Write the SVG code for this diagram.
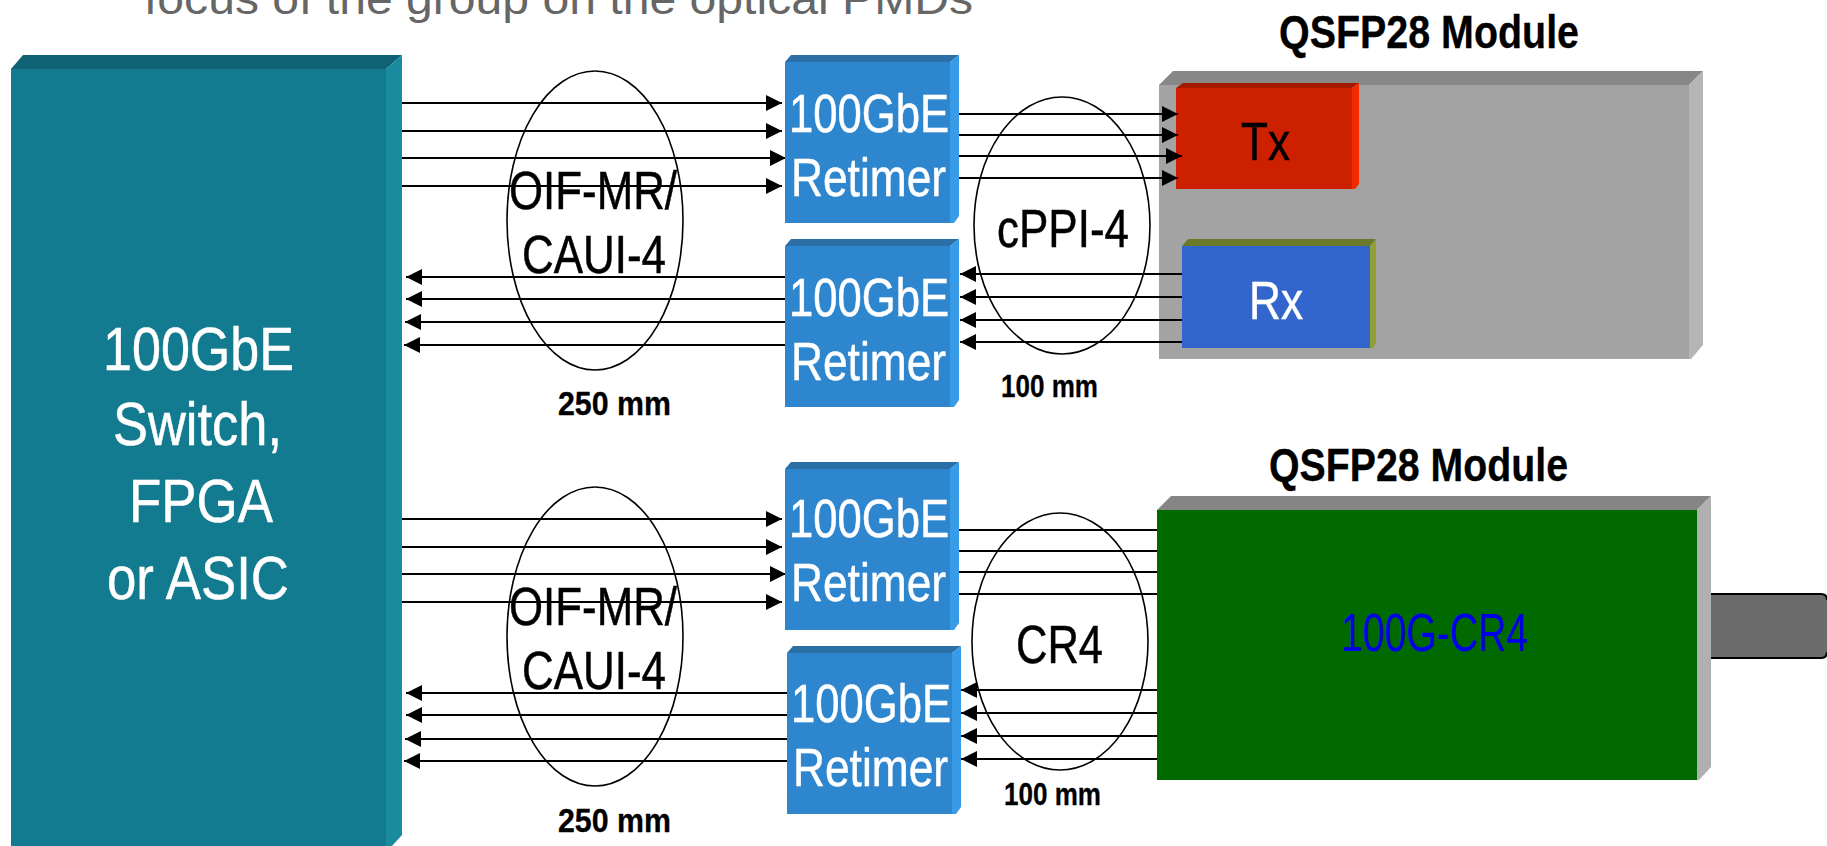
<svg xmlns="http://www.w3.org/2000/svg" width="1827" height="846" viewBox="0 0 1827 846">
<style>
text{font-family:"Liberation Sans",Arial,sans-serif;}
.w{fill:#fff;stroke:#fff;stroke-width:.5px}.k{fill:#000;stroke:#000;stroke-width:.5px}
.f53{font-size:54px}.f61{font-size:62px}
.b{font-weight:bold;fill:#000;stroke:#000;stroke-width:.3px}
.con line{stroke:#000;stroke-width:2.2}
.fw line{marker-end:url(#arr)}
.ell{fill:none;stroke:#000;stroke-width:1.6}
.rf{fill:#2e86cf}.rt{fill:#2a6fa6}.rs{fill:#389be8}
</style>
<defs>
<marker id="arr" markerUnits="userSpaceOnUse" markerWidth="16" markerHeight="16" refX="16" refY="8" orient="auto"><path d="M0 0L16 8L0 16Z" fill="#000"/></marker>
<g id="ret">
<path class="rf" d="M0 7H165V168H0Z"/>
<path class="rt" d="M0 7L6 0H174L165 7Z"/>
<path class="rs" d="M165 7L174 0V161L169 168H165Z"/>
</g>
</defs>
<rect width="1827" height="846" fill="#fff"/>
<text x="144" y="14" font-size="45" fill="#666" textLength="829" lengthAdjust="spacingAndGlyphs">focus of the group on the optical PMDs</text>

<g id="ellipses">
<ellipse class="ell" cx="595" cy="220.500" rx="88" ry="149.500"/>
<ellipse class="ell" cx="1062" cy="225.500" rx="88" ry="128.500"/>
<ellipse class="ell" cx="595" cy="636.500" rx="88" ry="149.500"/>
<ellipse class="ell" cx="1060" cy="641.500" rx="88" ry="128.500"/>
</g>

<g id="switch">
<path d="M11 69H386V846H11Z" fill="#137b8f"/>
<path d="M11 69L23 55H402L386 69Z" fill="#0f6273"/>
<path d="M386 69L402 55V835L392 846H386Z" fill="#1a8a9e"/>
<text class="w f61" x="103" y="370" textLength="191" lengthAdjust="spacingAndGlyphs">100GbE</text>
<text class="w f61" x="113" y="445" textLength="169" lengthAdjust="spacingAndGlyphs">Switch,</text>
<text class="w f61" x="129" y="522" textLength="144" lengthAdjust="spacingAndGlyphs">FPGA</text>
<text class="w f61" x="107" y="599" textLength="182" lengthAdjust="spacingAndGlyphs">or ASIC</text>
</g>

<g id="module-top">
<path d="M1159 85H1689V359H1159Z" fill="#a3a3a3"/>
<path d="M1159 85L1173 71H1703L1689 85Z" fill="#878787"/>
<path d="M1689 85L1703 71V345L1691 359H1689Z" fill="#b5b5b5"/>
</g>
<g id="tx">
<path d="M1176 88H1352V189H1176Z" fill="#cc2000"/>
<path d="M1176 88L1183 83H1359L1352 88Z" fill="#a31a00"/>
<path d="M1352 88L1359 83V184L1355 189H1352Z" fill="#f42a00"/>
<text class="k f53" x="1241" y="160" textLength="49" lengthAdjust="spacingAndGlyphs">Tx</text>
</g>
<g id="rx">
<path d="M1182 246H1370V348H1182Z" fill="#3366cc"/>
<path d="M1182 246L1188 239H1376L1370 246Z" fill="#6b7a2a"/>
<path d="M1370 246L1376 239V342L1373 348H1370Z" fill="#8fa033"/>
<text class="w f53" x="1249" y="319" textLength="54" lengthAdjust="spacingAndGlyphs">Rx</text>
</g>

<g id="cable">
<path d="M1711 594H1821Q1827 594 1827 600V652Q1827 658 1821 658H1711Z" fill="#6b6b6b"/>
<path d="M1711 594H1821Q1827 594 1827 600M1827 652Q1827 658 1821 658H1711" fill="none" stroke="#000" stroke-width="2"/>
</g>

<g id="connectors" class="con">
<g class="fw">
<line x1="402" y1="103" x2="782" y2="103"/>
<line x1="402" y1="131" x2="782" y2="131"/>
<line x1="402" y1="158" x2="786" y2="158"/>
<line x1="402" y1="186" x2="782" y2="186"/>
<line x1="785" y1="277" x2="406" y2="277"/>
<line x1="785" y1="299" x2="406" y2="299"/>
<line x1="785" y1="322" x2="405" y2="322"/>
<line x1="785" y1="345" x2="404" y2="345"/>
<line x1="959" y1="114" x2="1178" y2="114"/>
<line x1="959" y1="135" x2="1178" y2="135"/>
<line x1="959" y1="156" x2="1182" y2="156"/>
<line x1="959" y1="178" x2="1178" y2="178"/>
<line x1="1182" y1="274" x2="960" y2="274"/>
<line x1="1182" y1="297" x2="960" y2="297"/>
<line x1="1182" y1="320" x2="960" y2="320"/>
<line x1="1182" y1="342" x2="960" y2="342"/>
<line x1="402" y1="519" x2="782" y2="519"/>
<line x1="402" y1="547" x2="782" y2="547"/>
<line x1="402" y1="574" x2="786" y2="574"/>
<line x1="402" y1="602" x2="782" y2="602"/>
<line x1="787" y1="693" x2="406" y2="693"/>
<line x1="787" y1="715" x2="406" y2="715"/>
<line x1="787" y1="739" x2="405" y2="739"/>
<line x1="787" y1="761" x2="404" y2="761"/>
<line x1="1157" y1="690" x2="961" y2="690"/>
<line x1="1157" y1="713" x2="961" y2="713"/>
<line x1="1157" y1="736" x2="961" y2="736"/>
<line x1="1157" y1="759" x2="961" y2="759"/>
</g>
<line x1="959" y1="530" x2="1157" y2="530"/>
<line x1="959" y1="551" x2="1157" y2="551"/>
<line x1="959" y1="572" x2="1157" y2="572"/>
<line x1="959" y1="594" x2="1157" y2="594"/>
</g>

<g id="retimer-1"><use href="#ret" x="785" y="55"/>
<text class="w f53" x="789" y="132" textLength="160" lengthAdjust="spacingAndGlyphs">100GbE</text>
<text class="w f53" x="791" y="196" textLength="155" lengthAdjust="spacingAndGlyphs">Retimer</text></g>
<g id="retimer-2"><use href="#ret" x="785" y="239"/>
<text class="w f53" x="789" y="316" textLength="160" lengthAdjust="spacingAndGlyphs">100GbE</text>
<text class="w f53" x="791" y="380" textLength="155" lengthAdjust="spacingAndGlyphs">Retimer</text></g>
<g id="retimer-3"><use href="#ret" x="785" y="462"/>
<text class="w f53" x="789" y="537" textLength="160" lengthAdjust="spacingAndGlyphs">100GbE</text>
<text class="w f53" x="791" y="601" textLength="155" lengthAdjust="spacingAndGlyphs">Retimer</text></g>
<g id="retimer-4"><use href="#ret" x="787" y="646"/>
<text class="w f53" x="791" y="722" textLength="160" lengthAdjust="spacingAndGlyphs">100GbE</text>
<text class="w f53" x="793" y="786" textLength="155" lengthAdjust="spacingAndGlyphs">Retimer</text></g>

<g id="module-bottom">
<path d="M1157 510H1697V780H1157Z" fill="#006a00"/>
<path d="M1157 510L1171 496H1711L1697 510Z" fill="#858585"/>
<path d="M1697 510L1711 496V767L1699 780H1697Z" fill="#b0b0b0"/>
<text class="f53" fill="#0000e6" x="1341" y="651" textLength="187" lengthAdjust="spacingAndGlyphs">100G-CR4</text>
</g>

<g id="labels">
<text class="k f53" x="509" y="209" textLength="168" lengthAdjust="spacingAndGlyphs">OIF-MR/</text>
<text class="k f53" x="522" y="273" textLength="144" lengthAdjust="spacingAndGlyphs">CAUI-4</text>
<text class="b" font-size="33" x="558" y="415" textLength="113" lengthAdjust="spacingAndGlyphs">250 mm</text>
<text class="k f53" x="997" y="247" textLength="132" lengthAdjust="spacingAndGlyphs">cPPI-4</text>
<text class="b" font-size="31" x="1001" y="397" textLength="97" lengthAdjust="spacingAndGlyphs">100 mm</text>
<text class="b" font-size="46" x="1279" y="48" textLength="300" lengthAdjust="spacingAndGlyphs">QSFP28 Module</text>
<text class="b" font-size="46" x="1269" y="481" textLength="299" lengthAdjust="spacingAndGlyphs">QSFP28 Module</text>
<text class="k f53" x="509" y="625" textLength="168" lengthAdjust="spacingAndGlyphs">OIF-MR/</text>
<text class="k f53" x="522" y="689" textLength="144" lengthAdjust="spacingAndGlyphs">CAUI-4</text>
<text class="b" font-size="33" x="558" y="832" textLength="113" lengthAdjust="spacingAndGlyphs">250 mm</text>
<text class="k f53" x="1016" y="663" textLength="87" lengthAdjust="spacingAndGlyphs">CR4</text>
<text class="b" font-size="31" x="1004" y="805" textLength="97" lengthAdjust="spacingAndGlyphs">100 mm</text>
</g>
</svg>
